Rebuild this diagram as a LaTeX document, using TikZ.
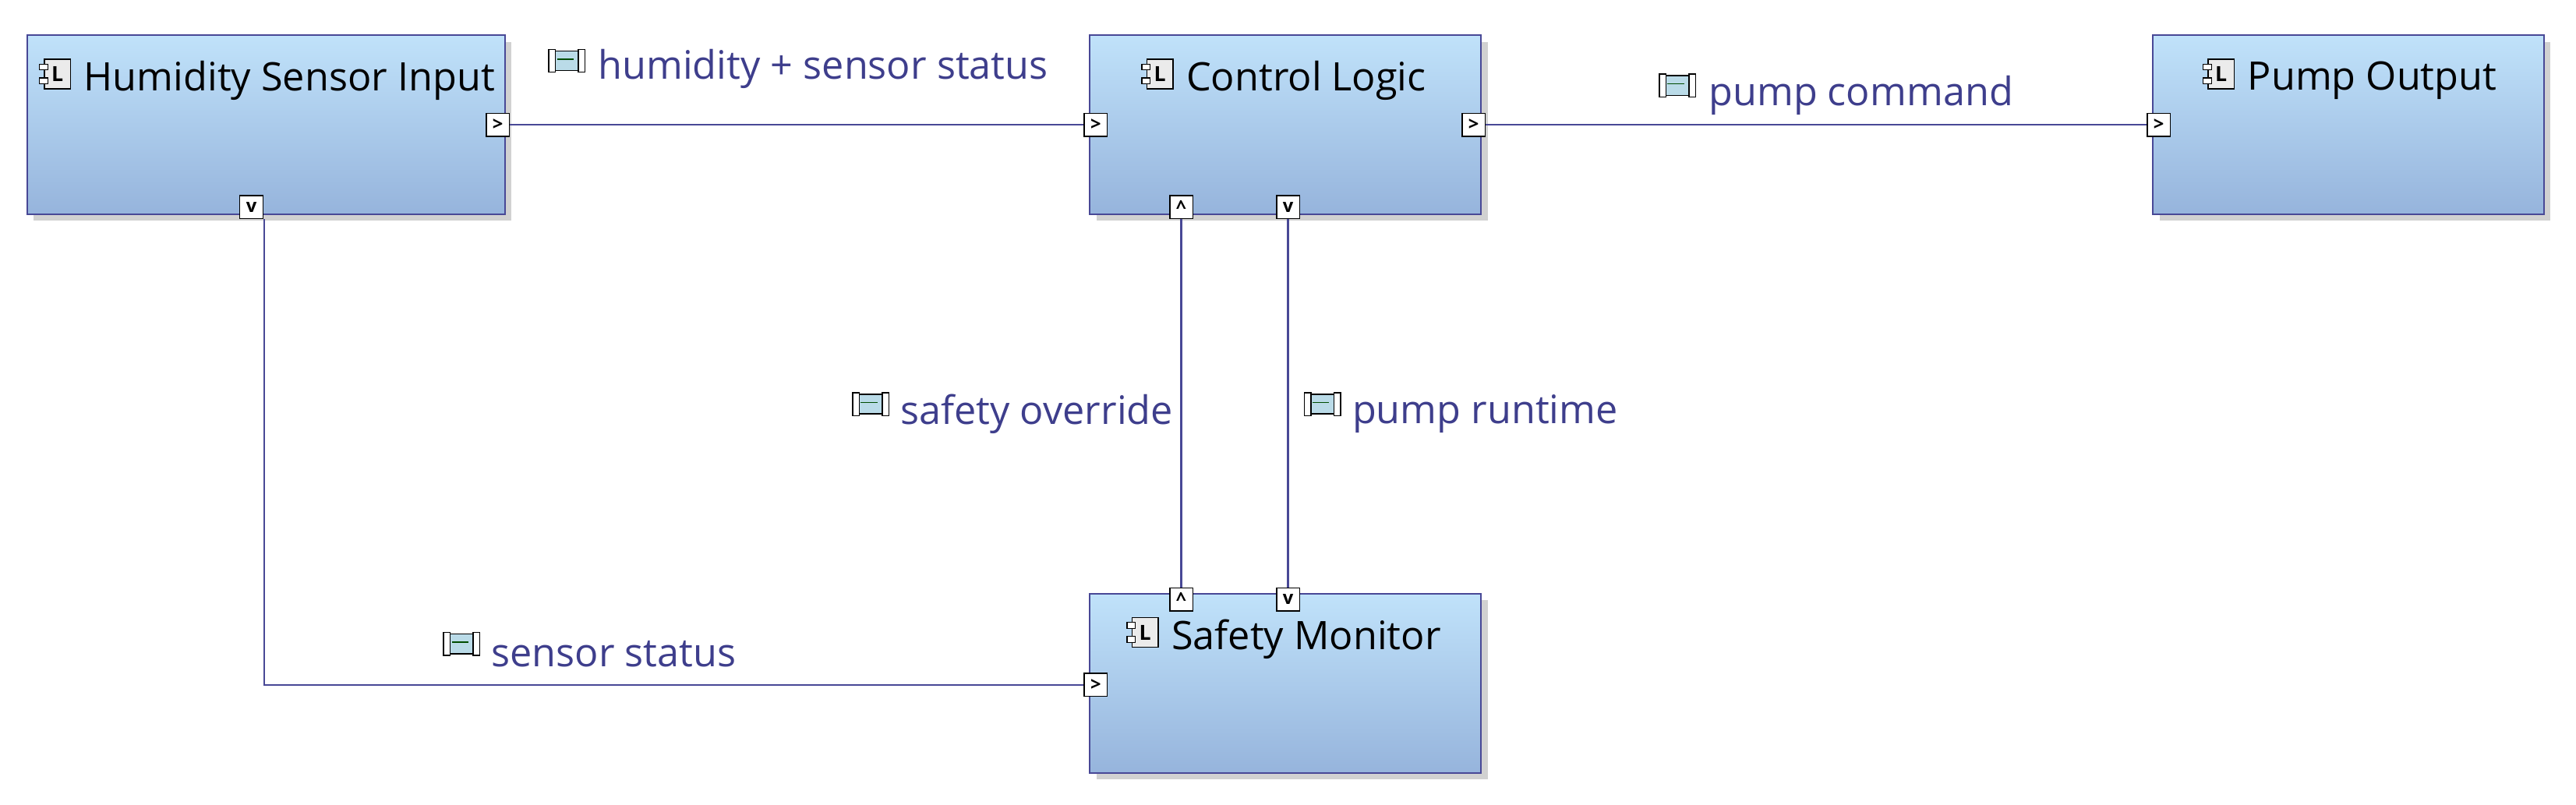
\documentclass[tikz,border=0pt]{standalone}
\usepackage{fontspec}
\setmainfont{Open Sans}
\usetikzlibrary{shadows,positioning}
\definecolor{bordc}{RGB}{72,72,150}
\definecolor{topc}{RGB}{192,226,250}
\definecolor{botc}{RGB}{150,180,220}
\definecolor{labc}{RGB}{62,62,140}
\tikzset{
  block/.style={draw=bordc, line width=1.3pt, top color=topc, bottom color=botc,
    minimum height=5.45cm, inner sep=0, anchor=north west,
    drop shadow={shadow xshift=0.2cm, shadow yshift=-0.2cm, fill=black!18, opacity=1}},
  port/.style={draw=black, fill=white, line width=1pt, minimum size=0.7cm, inner sep=0,
    font=\fontsize{16}{16}\selectfont\bfseries},
  title/.style={font=\fontsize{34}{36}\selectfont, anchor=west, inner sep=0},
  lab/.style={font=\fontsize{34}{36}\selectfont, text=labc, anchor=west, inner sep=0},
  link/.style={draw=bordc, line width=1.4pt},
  comp/.pic={
    \begin{scope}[x=1cm, y=1cm]
    \draw[line width=1pt, fill=black!8] (-0.35,-0.45) rectangle (0.45,0.45);
    \node[font=\fontsize{18}{18}\selectfont\bfseries, inner sep=0] at (0.05,0) {L};
    \draw[line width=0.8pt, fill=white] (-0.5,0.12) rectangle (-0.25,0.3);
    \draw[line width=0.8pt, fill=white] (-0.5,-0.3) rectangle (-0.25,-0.12);
    \end{scope}
  },
  iface/.pic={
    \begin{scope}[x=1cm, y=1cm]
    \draw[line width=1pt, fill=black!30!cyan!30] (-0.45,-0.3) rectangle (0.45,0.3);
    \draw[line width=1pt, fill=white] (-0.55,-0.35) rectangle (-0.35,0.35);
    \draw[line width=1pt, fill=white] (0.35,-0.35) rectangle (0.55,0.35);
    \draw[line width=1.2pt, black!70!green] (-0.3,0.05) -- (0.2,0.05);
    \end{scope}
  }
}
\begin{document}
\begin{tikzpicture}[x=0.05cm, y=-0.05cm]
  \useasboundingbox (0,0) rectangle (1568,490);

  % blocks
  \node[block, minimum width=14.55cm] (hsi) at (16,21) {};
  \node[block, minimum width=11.9cm] (ctl) at (663,21) {};
  \node[block, minimum width=11.9cm] (pump) at (1310,21) {};
  \node[block, minimum width=11.9cm] (safe) at (663,361) {};

  % titles
  \pic at (34,45) {comp};
  \node[title] (hsit) at (51,49) {Humidity Sensor Input};
  \pic at (705,45) {comp};
  \node[title] (ctlt) at (722,49) {Control Logic};
  \pic at (1351,45) {comp};
  \node[title] (pumpt) at (1368,49) {Pump Output};
  \pic at (696,385) {comp};
  \node[title] (safet) at (713,389) {Safety Monitor};

  % ports
  \node[port] (hsiR) at (303,76) {>};
  \node[port] (hsiB) at (153,126) {v};
  \node[port] (ctlL) at (667,76) {>};
  \node[port] (ctlR) at (897,76) {>};
  \node[port] (ctlB1) at (719,126) {\^{}};
  \node[port] (ctlB2) at (784,126) {v};
  \node[port] (pumpL) at (1314,76) {>};
  \node[port] (safeT1) at (719,365) {\^{}};
  \node[port] (safeT2) at (784,365) {v};
  \node[port] (safeL) at (667,417) {>};
  \coordinate (bend) at (161,417);

  % connectors
  \path[link] (hsiR) -- (ctlL);
  \path[link] (ctlR) -- (pumpL);
  \path[link] (safeT1) -- (ctlB1);
  \path[link] (ctlB2) -- (safeT2);
  \path[link] (hsiB.south -| bend) -- (bend) -- (safeL);

  % labels
  \pic at (345,37) {iface};
  \node[lab] (l1) at (364,42) {humidity + sensor status};
  \pic at (1021,52) {iface};
  \node[lab] (l2) at (1040,58) {pump command};
  \pic at (530,246) {iface};
  \node[lab] (l3) at (548,252) {safety override};
  \pic at (805,246) {iface};
  \node[lab] (l4) at (823,252) {pump runtime};
  \pic at (281,392) {iface};
  \node[lab] (l5) at (299,398) {sensor status};
\end{tikzpicture}
\end{document}
